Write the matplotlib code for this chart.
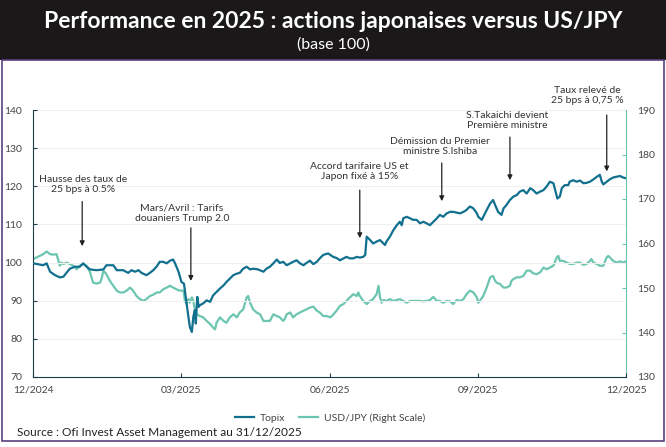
import matplotlib
matplotlib.use("Agg")
import matplotlib.pyplot as plt
from matplotlib.patches import Rectangle

# months since 12/2024 (0 = 12/2024, 12 = 12/2025)
topix_t = [0.00, 0.20, 0.27, 0.34, 0.44, 0.54, 0.61, 0.67, 0.74, 0.84, 0.94, 1.01, 1.08, 1.15, 1.28,
           1.42, 1.48, 1.62, 1.69, 1.82, 1.92, 1.99, 2.06, 2.13, 2.19, 2.29, 2.36, 2.43, 2.50, 2.56,
           2.63, 2.70, 2.77, 2.83, 2.87, 2.94, 3.00, 3.05, 3.09, 3.14, 3.17, 3.21, 3.24, 3.27, 3.29,
           3.32, 3.35, 3.37, 3.44, 3.51, 3.58, 3.64, 3.71, 3.78, 3.85, 3.91, 3.98, 4.05, 4.12, 4.18,
           4.25, 4.32, 4.39, 4.45, 4.55, 4.66, 4.72, 4.79, 4.86, 4.93, 4.99, 5.06, 5.13, 5.20, 5.26,
           5.33, 5.40, 5.47, 5.53, 5.60, 5.67, 5.74, 5.80, 5.87, 5.97, 6.07, 6.14, 6.21, 6.28, 6.34,
           6.41, 6.48, 6.55, 6.61, 6.68, 6.72, 6.75, 6.82, 6.88, 6.95, 7.02, 7.09, 7.12, 7.15, 7.22,
           7.29, 7.36, 7.42, 7.46, 7.49, 7.56, 7.63, 7.69, 7.76, 7.83, 7.90, 7.96, 8.03, 8.10, 8.17,
           8.23, 8.30, 8.37, 8.44, 8.50, 8.57, 8.64, 8.71, 8.77, 8.84, 8.91, 8.98, 9.01, 9.08, 9.11,
           9.18, 9.25, 9.31, 9.35, 9.41, 9.48, 9.52, 9.58, 9.65, 9.72, 9.79, 9.85, 9.92, 9.99, 10.06,
           10.12, 10.19, 10.26, 10.33, 10.39, 10.46, 10.53, 10.61, 10.66, 10.70, 10.76, 10.83, 10.86,
           10.93, 11.00, 11.07, 11.14, 11.20, 11.27, 11.34, 11.41, 11.47, 11.51, 11.54, 11.61, 11.67,
           11.74, 11.81, 11.88, 11.94, 12.00]
topix = [99.8, 99.3, 99.8, 97.6, 96.7, 96.1, 96.3, 97.3, 98.4, 98.9, 98.9, 99.8, 98.9, 98.2, 98.0,
         98.2, 99.3, 99.3, 98.0, 98.0, 97.3, 98.0, 97.6, 98.0, 97.3, 96.7, 97.3, 98.0, 99.0, 100.2,
         100.2, 99.8, 100.5, 100.8, 99.8, 97.6, 94.9, 94.5, 90.6, 85.8, 83.1, 81.8, 85.8, 87.5, 84.0,
         91.0, 88.4, 88.8, 89.3, 90.1, 89.7, 91.4, 92.3, 93.2, 94.0, 94.9, 95.8, 96.7, 97.1, 97.3,
         98.4, 98.9, 98.2, 98.4, 98.2, 97.6, 98.4, 98.9, 99.8, 100.8, 99.9, 100.2, 99.3, 99.8, 100.2,
         100.6, 99.8, 99.3, 99.9, 100.5, 99.6, 100.2, 101.1, 102.0, 102.4, 101.5, 101.2, 100.6, 101.1, 101.5,
         101.1, 101.1, 101.5, 101.3, 101.5, 102.0, 106.8, 105.9, 105.0, 105.5, 105.9, 105.0, 104.6, 105.5, 106.8,
         108.5, 109.8, 110.7, 109.8, 111.6, 112.0, 111.6, 111.2, 111.2, 110.3, 110.7, 110.3, 109.8, 110.7, 111.6,
         112.5, 112.0, 112.9, 113.3, 113.3, 113.1, 112.9, 113.3, 113.8, 114.7, 114.2, 112.9, 112.0, 111.2, 112.0,
         113.8, 115.5, 116.4, 115.1, 113.3, 112.5, 114.2, 115.1, 116.4, 117.3, 117.7, 118.6, 119.0, 118.1, 119.5,
         119.0, 118.1, 118.6, 119.0, 119.9, 121.2, 120.8, 116.8, 117.3, 119.5, 120.3, 120.3, 121.2,
         121.6, 121.2, 121.5, 120.8, 120.9, 121.2, 121.8, 122.5, 123.0, 121.2, 120.5, 121.2, 121.8,
         122.3, 122.5, 122.7, 122.3, 122.1]

usdjpy_t = [0.00, 0.07, 0.13, 0.20, 0.27, 0.34, 0.40, 0.47, 0.51, 0.54, 0.57, 0.61, 0.67, 0.74, 0.81,
            0.88, 0.94, 1.01, 1.08, 1.15, 1.21, 1.28, 1.35, 1.38, 1.42, 1.48, 1.55, 1.62, 1.69, 1.75,
            1.82, 1.89, 1.96, 2.02, 2.09, 2.16, 2.23, 2.29, 2.36, 2.43, 2.50, 2.56, 2.63, 2.70, 2.77,
            2.83, 2.90, 2.97, 3.04, 3.07, 3.10, 3.14, 3.17, 3.21, 3.24, 3.27, 3.31, 3.37, 3.44, 3.51,
            3.58, 3.64, 3.68, 3.71, 3.78, 3.85, 3.91, 3.98, 4.05, 4.12, 4.18, 4.25, 4.32, 4.35, 4.39,
            4.45, 4.52, 4.59, 4.66, 4.72, 4.79, 4.86, 4.93, 4.99, 5.06, 5.09, 5.13, 5.20, 5.26, 5.33,
            5.40, 5.47, 5.53, 5.60, 5.67, 5.74, 5.80, 5.87, 5.94, 6.01, 6.07, 6.14, 6.21, 6.28, 6.34,
            6.41, 6.48, 6.55, 6.58, 6.61, 6.68, 6.75, 6.82, 6.88, 6.95, 6.99, 7.02, 7.05, 7.09, 7.15,
            7.22, 7.29, 7.36, 7.42, 7.49, 7.56, 7.63, 7.69, 7.76, 7.83, 7.90, 7.96, 8.03, 8.10, 8.17,
            8.23, 8.30, 8.37, 8.44, 8.50, 8.57, 8.64, 8.71, 8.77, 8.84, 8.91, 8.98, 9.01, 9.04, 9.11,
            9.18, 9.25, 9.31, 9.35, 9.38, 9.45, 9.52, 9.58, 9.65, 9.68, 9.72, 9.79, 9.85, 9.92, 9.99,
            10.06, 10.12, 10.19, 10.26, 10.33, 10.39, 10.46, 10.53, 10.60, 10.63, 10.66, 10.73, 10.80, 10.86, 10.93,
            11.00, 11.07, 11.14, 11.20, 11.27, 11.30, 11.34, 11.41, 11.47, 11.54, 11.61, 11.64, 11.67, 11.74, 11.81,
            11.88, 11.94, 12.00]
usdjpy = [156.5, 156.9, 157.2, 157.6, 158.2, 157.6, 157.5, 157.6, 156.1, 155.0, 155.7, 155.4, 155.7, 155.4, 155.0,
          154.2, 155.0, 155.4, 155.0, 153.5, 151.2, 151.0, 151.2, 152.0, 153.9, 153.1, 151.6, 150.5, 149.4, 149.0,
          149.0, 149.4, 150.1, 149.4, 148.2, 147.5, 147.1, 147.5, 148.2, 148.5, 149.0, 149.0, 149.7, 150.1, 150.5,
          150.1, 149.7, 149.4, 149.4, 147.1, 146.4, 147.5, 146.7, 147.9, 147.1, 145.2, 144.1, 143.7, 143.4, 142.6,
          141.9, 141.1, 140.7, 142.2, 143.4, 142.6, 142.2, 143.4, 144.1, 143.4, 144.5, 145.2, 147.9, 148.2, 146.7,
          145.2, 144.5, 144.1, 142.6, 142.6, 142.6, 144.1, 143.7, 143.4, 142.6, 143.0, 144.1, 144.5, 143.4, 144.1,
          144.5, 144.9, 145.2, 145.6, 145.8, 144.9, 144.5, 143.7, 143.7, 143.4, 144.0, 144.9, 146.0, 146.4, 147.1,
          147.9, 148.6, 148.2, 149.0, 148.2, 147.1, 146.4, 147.1, 147.5, 148.6, 150.5, 147.9, 146.7, 147.3, 147.1,
          147.5, 147.1, 147.3, 147.5, 147.1, 146.7, 147.1, 147.1, 147.1, 147.1, 147.0, 147.1, 147.3, 148.0, 147.1,
          147.1, 146.7, 147.1, 147.0, 146.4, 147.3, 147.1, 147.5, 148.6, 149.4, 149.0, 147.9, 146.7, 147.1, 148.2,
          150.1, 152.4, 152.7, 151.6, 151.2, 150.9, 150.1, 150.1, 150.5, 151.6, 152.0, 152.4, 152.4, 152.7, 153.9,
          153.9, 153.3, 153.1, 153.5, 154.6, 154.2, 154.6, 155.0, 156.9, 157.2, 156.1, 156.1, 155.7, 155.4, 155.4,
          155.7, 155.7, 155.2, 155.4, 156.1, 156.5, 155.7, 155.4, 155.0, 155.0, 156.9, 157.2, 156.9, 156.1, 155.7,
          156.0, 155.7, 156.0]

x_ticks = [0, 3, 6, 9, 12]
x_labels = ["12/2024", "03/2025", "06/2025", "09/2025", "12/2025"]

# annotations: text, text position (month, left value), arrow x, arrow tail, arrow head
notes = [
    ("Hausse des taux de\n25 bps à 0.5%", 1.0, 120.4, 0.99, 116.0, 104.3),
    ("Mars/Avril : Tarifs\ndouaniers Trump 2.0", 3.01, 113.0, 3.19, 109.1, 95.2),
    ("Accord tarifaire US et\nJapon fixé à 15%", 6.61, 123.9, 6.61, 119.0, 106.4),
    ("Démission du Premier\nministre S.Ishiba", 8.23, 130.5, 8.27, 126.1, 116.1),
    ("S.Takaichi devient\nPremière ministre", 9.59, 137.3, 9.65, 132.9, 121.6),
    ("Taux relevé de\n25 bps à 0,75 %", 11.21, 143.8, 11.61, 138.7, 123.9),
]

topix_color = "#12708f"
usd_color = "#6cc5b0"
head_font = ["Lato", "DejaVu Sans"]
body_font = ["Lato", "DejaVu Sans"]

fig = plt.figure(figsize=(6.66, 4.47), dpi=100)

# header band and frame
fig.patches.append(Rectangle((0, 1 - 60 / 447), 1, 60 / 447, transform=fig.transFigure,
                             facecolor="#1b1819", edgecolor="none", zorder=0))
fig.patches.append(Rectangle((2 / 666, 6 / 447), 662 / 666, 381 / 447, transform=fig.transFigure,
                             facecolor="none", edgecolor="#5b3f7d", linewidth=1.2, zorder=0))
fig.text(0.5, 1 - 21 / 447, "Performance en 2025 : actions japonaises versus US/JPY",
         ha="center", va="center", color="white", fontsize=16.5, fontweight="bold", family=head_font)
fig.text(0.5, 1 - 45 / 447, "(base 100)", ha="center", va="center", color="white",
         fontsize=11.5, family=head_font)

ax = fig.add_axes([33.3 / 666, 1 - 377 / 447, (626 - 33.3) / 666, 267 / 447])
ax2 = ax.twinx()

ax.plot(topix_t, topix, color=topix_color, linewidth=1.6, label="Topix", zorder=3)
ax2.plot(usdjpy_t, usdjpy, color=usd_color, linewidth=1.6, label="USD/JPY (Right Scale)")
ax.set_zorder(ax2.get_zorder() + 1)
ax.patch.set_visible(False)

ax.set_xlim(0, 12)
ax.set_ylim(70, 140)
ax2.set_ylim(130, 190)
ax.set_yticks(range(70, 141, 10))
ax2.set_yticks(range(130, 191, 10))
ax.set_xticks(x_ticks)
ax.set_xticklabels(x_labels)
ax.grid(axis="y", color="#f0f0f0", linewidth=0.8)
ax.set_axisbelow(True)

for a in (ax, ax2):
    a.spines["top"].set_visible(False)
ax.spines["right"].set_visible(False)
ax.spines["left"].set_color("#1d3b4a")
ax.spines["bottom"].set_color("#1d3b4a")
ax2.spines["left"].set_visible(False)
ax2.spines["bottom"].set_visible(False)
ax2.spines["right"].set_color(usd_color)

ax.tick_params(axis="y", direction="in", length=3, color="#1d3b4a", labelsize=7.5,
               labelcolor="#444444", pad=8)
ax.tick_params(axis="x", direction="in", length=3, color="#1d3b4a", labelsize=7.5,
               labelcolor="#444444", pad=6)
ax2.tick_params(axis="y", direction="in", length=3, color=usd_color, labelsize=7.5,
                labelcolor="#444444", pad=8)
for lab in ax.get_yticklabels() + ax.get_xticklabels() + ax2.get_yticklabels():
    lab.set_family(body_font)

for text, tx, ty, axx, tail, head in notes:
    ax.text(tx, ty, text, ha="center", va="center", fontsize=7.5, color="#333333",
            linespacing=1.15, family=body_font, clip_on=False)
    ax.annotate("", xy=(axx, head), xytext=(axx, tail), annotation_clip=False,
                arrowprops=dict(arrowstyle="-|>", color="#222222", lw=0.9,
                                mutation_scale=7, shrinkA=0, shrinkB=0))

handles = ax.get_lines()[:1] + ax2.get_lines()[:1]
fig.legend(handles, [h.get_label() for h in handles], loc="center",
           bbox_to_anchor=(330 / 666, 1 - 418 / 447), ncol=2, frameon=False,
           prop={"family": body_font, "size": 7.5}, handlelength=1.8, handletextpad=0.6,
           columnspacing=1.3, labelcolor="#444444")

fig.text(17 / 666, 1 - 432 / 447, "Source : Ofi Invest Asset Management au 31/12/2025",
         ha="left", va="center", fontsize=8.6, color="#222222", family=body_font)

fig.savefig("out.png", dpi=100)
